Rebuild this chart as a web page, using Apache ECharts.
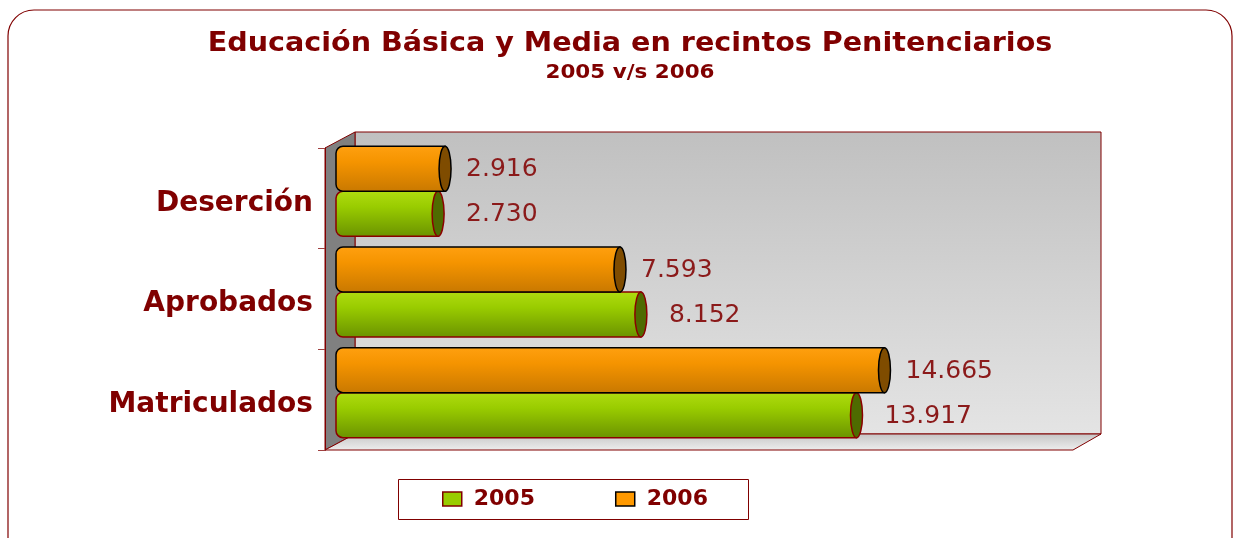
<!DOCTYPE html>
<html>
<head>
<meta charset="utf-8">
<script src="https://cdn.jsdelivr.net/npm/echarts@6/dist/echarts.min.js"></script>
<style>
  html, body { margin: 0; padding: 0; background: #ffffff; }
  #EduChart { width: 1238px; height: 538px; }
</style>
</head>
<body>
<div id="EduChart"></div>
<script>
// datos
const categories = ["Matriculados", "Aprobados", "Deserción"];
const values2005 = [13917, 8152, 2730];
const values2006 = [14665, 7593, 2916];
const seriesNames = ["2005", "2006"];
const titleText = "Educación Básica y Media en recintos Penitenciarios";
const subtitleText = "2005 v/s 2006";

const darkRed = "#800000";
const fontFamily = "DejaVu Sans";

function formatMiles(n) {
  return String(n).replace(/\B(?=(\d{3})+(?!\d))/g, ".");
}

// cilindro: cuerpo + tapa final + etiqueta
function cylinder(look) {
  return function (params, api) {
    const catIdx = api.value(1);
    const start = api.coord([0, catIdx]);
    const end = api.coord([api.value(0), catIdx]);
    const band = api.size([0, 1])[1];
    const h = band * 0.447;
    const top = look.upper ? start[1] - h : start[1];
    return {
      type: "group",
      children: [
        {
          type: "rect",
          shape: { x: start[0], y: top, width: end[0] - start[0], height: h, r: [7, 0, 0, 7] },
          style: {
            fill: new echarts.graphic.LinearGradient(0, 0, 0, 1, look.stops),
            stroke: look.border,
            lineWidth: 1.5,
          },
        },
        {
          type: "ellipse",
          shape: { cx: end[0], cy: top + h / 2, rx: 6, ry: h / 2 },
          style: { fill: look.cap, stroke: look.border, lineWidth: 1.5 },
        },
        {
          type: "text",
          style: {
            text: formatMiles(api.value(0)),
            x: end[0] + 6 + look.labelGap,
            y: top + h / 2 + 1,
            verticalAlign: "middle",
            fill: "#8b1a1a",
            font: "25px " + fontFamily,
          },
        },
      ],
    };
  };
}

const chartDom = document.getElementById("EduChart");
const myChart = echarts.init(chartDom);

const option = {
  animation: false,
  legend: {
    data: [
      { name: "2005", itemStyle: { color: "#99cc00", borderColor: darkRed, borderWidth: 1.5 } },
      { name: "2006", itemStyle: { color: "#ff9900", borderColor: "#000000", borderWidth: 1.5 } },
    ],
    icon: "rect",
    left: 442,
    top: 488,
    itemWidth: 19,
    itemHeight: 14,
    itemGap: 80,
    padding: 0,
    selectedMode: false,
    textStyle: { color: darkRed, fontFamily: fontFamily, fontWeight: "bold", fontSize: 22, padding: [0, 0, 0, 7] },
  },
  graphic: [
    {
      type: "rect",
      z: -10,
      shape: { x: 8, y: 10, width: 1224, height: 560, r: 26 },
      style: { fill: "none", stroke: darkRed, lineWidth: 1.2 },
    },
    {
      type: "text",
      x: 630,
      y: 44,
      scaleX: 1.1,
      style: {
        text: titleText,
        x: 0,
        y: 0,
        align: "center",
        verticalAlign: "middle",
        fill: darkRed,
        font: "bold 26px " + fontFamily,
      },
    },
    {
      type: "text",
      x: 630,
      y: 73,
      scaleX: 1.13,
      style: {
        text: subtitleText,
        x: 0,
        y: 0,
        align: "center",
        verticalAlign: "middle",
        fill: darkRed,
        font: "bold 19px " + fontFamily,
      },
    },
    {
      type: "rect",
      z: -10,
      shape: { x: 355, y: 132, width: 746, height: 302 },
      style: {
        fill: new echarts.graphic.LinearGradient(0, 0, 0, 1, [
          { offset: 0, color: "#c0c0c0" },
          { offset: 1, color: "#e4e4e4" },
        ]),
        stroke: darkRed,
        lineWidth: 1,
      },
    },
    {
      type: "polygon",
      z: -10,
      shape: { points: [[325, 148], [355, 132], [355, 434], [325, 450]] },
      style: { fill: "#808080", stroke: darkRed, lineWidth: 1 },
    },
    {
      type: "polygon",
      z: -10,
      shape: { points: [[325, 450], [355, 434], [1101, 434], [1073, 450]] },
      style: {
        fill: new echarts.graphic.LinearGradient(0, 0, 0, 1, [
          { offset: 0, color: "#c4c4c4" },
          { offset: 1, color: "#eeeeee" },
        ]),
        stroke: darkRed,
        lineWidth: 1,
      },
    },
    {
      type: "rect",
      z: -10,
      shape: { x: 398.5, y: 479.5, width: 350, height: 40 },
      style: { fill: "#ffffff", stroke: darkRed, lineWidth: 1 },
    },
  ],
  grid: [
    // barras (a media profundidad)
    { left: 336, top: 141, width: 748, height: 302 },
    // plano frontal: eje y marcas
    { left: 325, top: 148, width: 748, height: 302 },
    // etiquetas de categoria
    { left: 325, top: 153, width: 748, height: 302 },
  ],
  xAxis: [
    { type: "value", gridIndex: 0, min: 0, max: 20000, show: false },
    { type: "value", gridIndex: 1, min: 0, max: 20000, show: false },
    { type: "value", gridIndex: 2, min: 0, max: 20000, show: false },
  ],
  yAxis: [
    { type: "category", gridIndex: 0, data: categories, show: false },
    {
      type: "category",
      gridIndex: 1,
      data: categories,
      axisLine: { show: true, lineStyle: { color: darkRed, width: 1 } },
      axisTick: { show: true, length: 7, lineStyle: { color: "#a04040" } },
      axisLabel: { show: false },
      splitLine: { show: false },
    },
    {
      type: "category",
      gridIndex: 2,
      data: categories,
      axisLine: { show: false },
      axisTick: { show: false },
      axisLabel: {
        margin: 12,
        color: darkRed,
        fontFamily: fontFamily,
        fontWeight: "bold",
        fontSize: 28,
      },
      splitLine: { show: false },
    },
  ],
  series: [
    {
      name: seriesNames[0],
      type: "custom",
      xAxisIndex: 0,
      yAxisIndex: 0,
      z: 3,
      clip: false,
      itemStyle: { color: "#99cc00", borderColor: darkRed },
      encode: { x: 0, y: 1 },
      data: values2005.map((v, i) => [v, i]),
      renderItem: cylinder({
        upper: false,
        border: "#8b0000",
        cap: "#4e6b00",
        labelGap: 22,
        stops: [
          { offset: 0, color: "#b0dc10" },
          { offset: 0.35, color: "#99cc00" },
          { offset: 1, color: "#6a9200" },
        ],
      }),
    },
    {
      name: seriesNames[1],
      type: "custom",
      xAxisIndex: 0,
      yAxisIndex: 0,
      z: 4,
      clip: false,
      itemStyle: { color: "#ff9900", borderColor: "#000000" },
      encode: { x: 0, y: 1 },
      data: values2006.map((v, i) => [v, i]),
      renderItem: cylinder({
        upper: true,
        border: "#000000",
        cap: "#7f4c00",
        labelGap: 15,
        stops: [
          { offset: 0, color: "#ffa010" },
          { offset: 0.35, color: "#f59400" },
          { offset: 1, color: "#c87800" },
        ],
      }),
    },
  ],
};

myChart.setOption(option);
window.addEventListener("resize", () => myChart.resize());
</script>
</body>
</html>
